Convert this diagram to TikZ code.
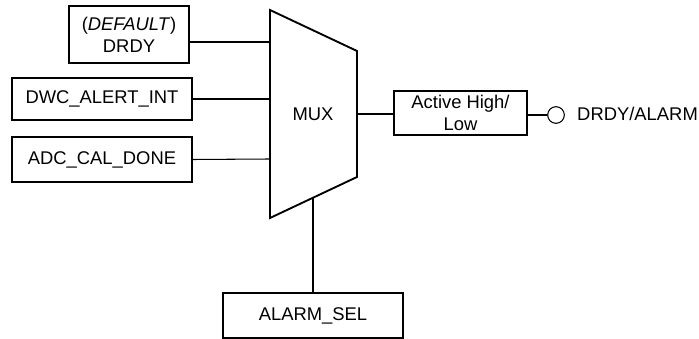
\documentclass[tikz,border=0pt]{standalone}
\usepackage{fontspec}
\setmainfont{Liberation Sans}
\usetikzlibrary{calc}
\tikzstyle{sigbox} = [
    rectangle,
    draw=black,
    line width=1.6pt,
    inner sep=0pt,
    align=center,
    font=\fontsize{15.7}{18.8}\selectfont
]
\tikzstyle{wire} = [line width=0.9pt]

\begin{document}
\begin{tikzpicture}[x=0.03cm, y=0.03cm]
\useasboundingbox (0,0) rectangle (699,339);

\node (drdy) [sigbox, minimum width=3.6cm, minimum height=1.71cm] at (129,304.5)
{(\textit{DEFAULT})\\DRDY};

\node (dwc) [sigbox, minimum width=5.4cm, minimum height=1.26cm] at (102,240)
{DWC\_ALERT\_INT};

\node (adc) [sigbox, minimum width=5.4cm, minimum height=1.35cm] at (102,179.5)
{ADC\_CAL\_DONE};

% multiplexer
\draw [line width=1.6pt] (270,329) -- (357,288) -- (357,162) -- (270,121) -- cycle;
\node (mux) [font=\fontsize{15.7}{18.8}\selectfont] at (313,225) {MUX};
\coordinate (in1) at (270,297);
\coordinate (in2) at (270,240);
\coordinate (in3) at (270,180);
\coordinate (out) at (357,225);
\coordinate (sel) at (313,141.3);

\node (pol) [sigbox, minimum width=3.99cm, minimum height=1.32cm] at (460.5,226)
{Active High/\\Low};

\node (pin) [circle, draw=black, line width=0.9pt, minimum size=0.5cm, inner sep=0pt] at (556,224) {};
\node (pinlabel) [anchor=west, inner sep=0pt, font=\fontsize{15.7}{18.8}\selectfont] at (577,225) {DRDY/ALARM};

\node (alarm) [sigbox, minimum width=5.4cm, minimum height=1.35cm] at (313,23.5)
{ALARM\_SEL};

\draw [wire] (in1 -| drdy.east) -- (in1);
\draw [wire] (dwc.east) -- (in2);
\draw [wire] (adc.east) -- (in3);
\draw [wire] (out) -- (out -| pol.west);
\draw [wire] (pin.west -| pol.east) -- (pin.west);
\draw [wire] (sel) -- (alarm.north);

\end{tikzpicture}
\end{document}
